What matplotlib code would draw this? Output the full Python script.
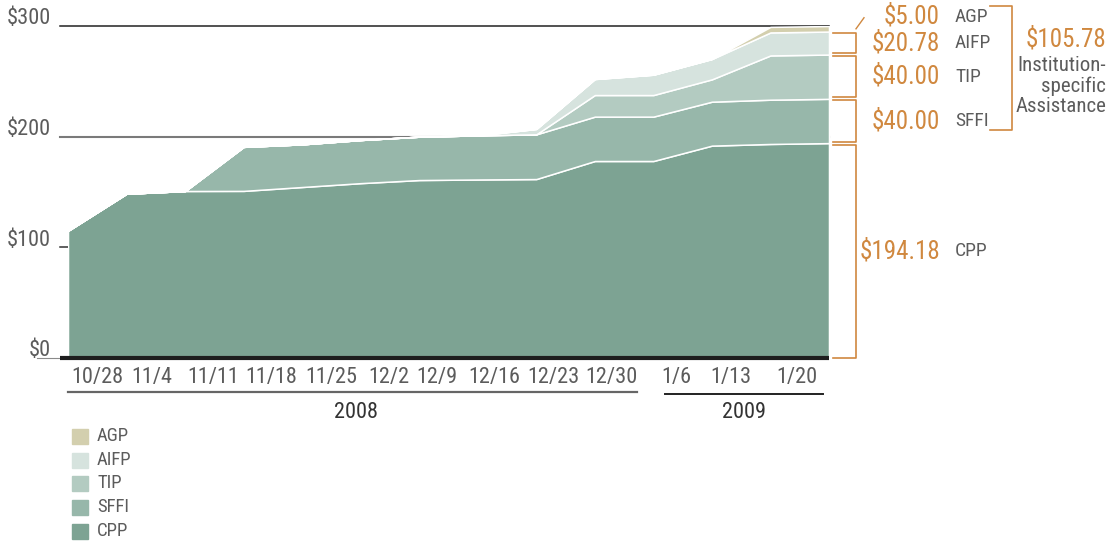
import numpy as np
import matplotlib
matplotlib.use("Agg")
import matplotlib.pyplot as plt
import matplotlib.transforms as mtransforms
from matplotlib.lines import Line2D
from matplotlib.patches import Rectangle

plt.rcParams['font.family'] = ['Roboto Condensed', 'Open Sans Condensed', 'DejaVu Sans Condensed',
                               'Liberation Sans Narrow', 'Roboto', 'DejaVu Sans']
plt.rcParams['font.stretch'] = 'condensed'

# weekly cumulative amounts, $ billions
weeks = np.arange(14)
cpp = [115.0, 148.5, 150.9, 151.0, 154.5, 158.0, 160.8, 161.3, 161.7, 178.0, 178.0, 191.9, 193.4, 194.18]
sffi = [0, 0, 0, 39.8, 38.6, 39.0, 39.2, 39.9, 40.4, 40.1, 40.1, 39.7, 40.0, 40.0]
tip = [0, 0, 0, 0, 0, 0, 0, 0, 0, 19.5, 19.5, 20.2, 40.0, 40.0]
aifp = [0, 0, 0, 0, 0, 0, 0, 0, 4.9, 14.5, 18.4, 18.4, 20.78, 20.78]
agp = [0, 0, 0, 0, 0, 0, 0, 0, 0, 0, 0, 0, 5.0, 5.0]

names = ['CPP', 'SFFI', 'TIP', 'AIFP', 'AGP']
final_vals = ['$194.18', '$40.00', '$40.00', '$20.78', '$5.00']
colors = ['#7da393', '#97b7aa', '#b3cbc1', '#d6e3de', '#d3cfae']

week_labels = ['10/28', '11/4', '11/11', '11/18', '11/25', '12/2', '12/9',
               '12/16', '12/23', '12/30', '1/6', '1/13', '1/20']
label_pos = [0.51, 1.43, 2.48, 3.47, 4.49, 5.48, 6.30, 7.29, 8.30, 9.29, 10.40, 11.33, 12.45]

orange = '#d0883f'
gray = '#5c5c5c'

W, H = 1112, 543
fig = plt.figure(figsize=(W / 100, H / 100), dpi=100)
ax = fig.add_axes([68 / W, 1 - 358 / H, (829 - 68) / W, (358 - 26) / H])
ax.set_xlim(0, 13)
ax.set_ylim(0, 300)
ax.axis('off')

def fx(p):
    return p / W

def fy(p):
    return 1 - p / H

blend = mtransforms.blended_transform_factory(fig.transFigure, ax.transData)

# grid lines (behind areas)
ax.plot([fx(60), fx(829)], [300, 300], color='#222222', lw=1.1, transform=blend, clip_on=False, zorder=0)
ax.plot([fx(60), fx(829)], [200, 200], color='#7a7a7a', lw=1.5, transform=blend, clip_on=False, zorder=0)
ax.plot([fx(60), fx(829)], [100, 100], color='#333333', lw=1.1, transform=blend, clip_on=False, zorder=0)
ax.plot([fx(37), fx(60)], [0, 0], color='#8a8a8a', lw=0.8, transform=blend, clip_on=False, zorder=0)

ax.stackplot(weeks, cpp, sffi, tip, aifp, agp, colors=colors,
             edgecolor='white', linewidth=1.1, zorder=2)

ax.plot([fx(60), fx(829)], [0, 0], color='#1e1e1e', lw=3.0, transform=blend,
        clip_on=False, zorder=3, solid_capstyle='butt')

for v in [0, 100, 200, 300]:
    ax.text(fx(51), v + 1.5, '$%d' % v, transform=blend, ha='right', va='baseline',
            fontsize=16, color=gray)

for pos, lab in zip(label_pos, week_labels):
    ax.text(pos, -18, lab, ha='center', va='center', fontsize=16, color=gray, clip_on=False)

fig.add_artist(Line2D([fx(68), fx(637)], [fy(392), fy(392)], color='#666666', lw=1.6))
fig.add_artist(Line2D([fx(665), fx(823)], [fy(394), fy(394)], color='#222222', lw=1.4))
fig.text(fx(356), fy(412), '2008', ha='center', va='center', fontsize=16, color='#333333')
fig.text(fx(744), fy(412), '2009', ha='center', va='center', fontsize=16, color='#333333')

# legend
legend_rows = [436, 460, 483, 507, 531]
for row, name, col in zip(legend_rows, names[::-1], colors[::-1]):
    fig.add_artist(Rectangle((fx(72), fy(row + 7.5)), 16 / W, 15 / H, color=col,
                             transform=fig.transFigure))
    fig.text(fx(97), fy(row), name, ha='left', va='center', fontsize=13.5, color=gray)

# right side brackets
last = [s[-1] for s in [cpp, sffi, tip, aifp, agp]]
tops = np.cumsum(last)
bottoms = tops - np.array(last)
gap = 1.3
for k in range(4):
    y0 = bottoms[k] + (gap if k > 0 else 0)
    y1 = tops[k] - gap
    ax.plot([fx(833), fx(856), fx(856), fx(833)], [y0, y0, y1, y1], color=orange,
            lw=1.2, transform=blend, clip_on=False)
    yc = (y0 + y1) / 2
    ax.text(fx(940), yc, final_vals[k], transform=blend, ha='right', va='center',
            fontsize=18, color=orange)
    ax.text(fx(955), yc, names[k], transform=blend, ha='left', va='center',
            fontsize=14, color=gray)

# AGP leader
ax.plot([fx(856), fx(864)], [tops[4] - 2.5, tops[4] + 7.5], color=orange, lw=1.0,
        transform=blend, clip_on=False)
ax.text(fx(940), 308.4, final_vals[4], transform=blend, ha='right', va='center',
        fontsize=18, color=orange)
ax.text(fx(955), 308.4, names[4], transform=blend, ha='left', va='center',
        fontsize=14, color=gray)

# institution-specific bracket
fig.add_artist(Line2D([fx(990), fx(1012), fx(1012), fx(990)],
                      [fy(5.5), fy(5.5), fy(130), fy(130)], color=orange, lw=1.2))
fig.text(fx(1106), fy(39), '$105.78', ha='right', va='center', fontsize=18, color=orange)
fig.text(fx(1106), fy(86), 'Institution-\nspecific\nAssistance', ha='right', va='center',
         multialignment='right', fontsize=15, color=gray, linespacing=1.05)

fig.savefig('out.png', dpi=100)
